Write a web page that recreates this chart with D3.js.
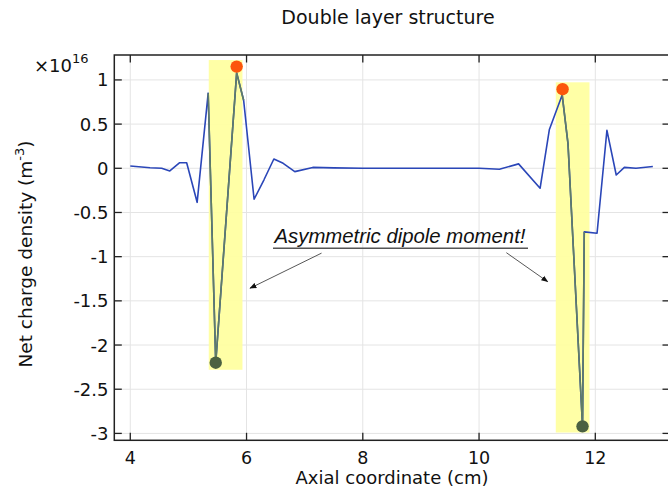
<!DOCTYPE html>
<html>
<head>
<meta charset="utf-8">
<script src="https://cdn.jsdelivr.net/npm/d3@7"></script>
<style>
  html, body { margin: 0; padding: 0; background: #fff; }
  svg { display: block; }
</style>
</head>
<body>
<svg id="chart" width="668" height="488"></svg>
<script>
// ---- Data ----
const axialCm = [4.00, 4.34, 4.54, 4.68, 4.85, 4.97, 5.15, 5.34, 5.47, 5.83, 5.95, 6.13, 6.30, 6.47, 6.63, 6.83, 7.14, 7.5, 8.0, 8.5, 9.0, 9.5, 10.0, 10.35, 10.68, 11.05, 11.21, 11.43, 11.53, 11.78, 11.81, 12.03, 12.20, 12.36, 12.50, 12.70, 12.99];
const netCharge = [0.026, 0.007, 0.0, -0.03, 0.063, 0.063, -0.385, 0.85, -2.2, 1.08, 0.77, -0.35, -0.13, 0.105, 0.056, -0.038, 0.01, 0.005, 0.0, 0.0, 0.0, 0.0, 0.0, -0.01, 0.05, -0.226, 0.44, 0.83, 0.28, -2.92, -0.72, -0.735, 0.43, -0.076, 0.01, 0.0, 0.02];
// indices of the points re-drawn in grey-green (highlighted layers)
const highlightRuns = [[7, 10], [27, 30]];
// highlight boxes (x0, x1, yBottom, yTop)
const boxX0 = [5.35, 11.32];
const boxX1 = [5.93, 11.90];
const boxYBottom = [-2.28, -2.99];
const boxYTop = [1.225, 0.973];
// marker dots
const peakX = [5.83, 11.437];
const peakY = [1.151, 0.895];
const troughX = [5.47, 11.78];
const troughY = [-2.2, -2.92];
// tick values
const xTicks = [4, 6, 8, 10, 12];
const yTicks = [1, 0.5, 0, -0.5, -1, -1.5, -2, -2.5, -3];

// ---- Layout ----
const svg = d3.select("#chart");
const pLeft = 114.3, pRight = 670, pTop = 55, pBottom = 440.3;
const x = d3.scaleLinear().domain([3.725, 13.285]).range([pLeft, pRight]);
const y = d3.scaleLinear().domain([-3.078, 1.282]).range([pBottom, pTop]);
const font = "'DejaVu Sans', sans-serif";
const fmt = v => String(v).replace("\u2212", "-");

// grid
const grid = svg.append("g").attr("stroke", "#e4e4e4").attr("stroke-width", 1);
grid.selectAll("line.gx").data(xTicks).join("line")
  .attr("x1", d => x(d)).attr("x2", d => x(d)).attr("y1", pTop).attr("y2", pBottom);
grid.selectAll("line.gy").data(yTicks).join("line")
  .attr("x1", pLeft).attr("x2", pRight).attr("y1", d => y(d)).attr("y2", d => y(d));

// highlight boxes
svg.append("g").selectAll("rect").data(boxX0).join("rect")
  .attr("x", (d, i) => x(boxX0[i]))
  .attr("width", (d, i) => x(boxX1[i]) - x(boxX0[i]))
  .attr("y", (d, i) => y(boxYTop[i]))
  .attr("height", (d, i) => y(boxYBottom[i]) - y(boxYTop[i]))
  .attr("fill", "#ffff9e").attr("fill-opacity", 0.92);

// main line
const pts = axialCm.map((d, i) => [d, netCharge[i]]);
const line = d3.line().x(d => x(d[0])).y(d => y(d[1]));
svg.append("path").datum(pts).attr("d", line)
  .attr("fill", "none").attr("stroke", "#2a46b8").attr("stroke-width", 1.6)
  .attr("stroke-linejoin", "round");
// highlighted runs
highlightRuns.forEach(([a, b]) => {
  svg.append("path").datum(pts.slice(a, b + 1)).attr("d", line)
    .attr("fill", "none").attr("stroke", "#5f7c66").attr("stroke-width", 1.6)
    .attr("stroke-linejoin", "round");
});

// dots
svg.append("g").selectAll("circle").data(peakX).join("circle")
  .attr("cx", (d, i) => x(peakX[i])).attr("cy", (d, i) => y(peakY[i])).attr("r", 6.2)
  .attr("fill", "#fc560c");
svg.append("g").selectAll("circle").data(troughX).join("circle")
  .attr("cx", (d, i) => x(troughX[i])).attr("cy", (d, i) => y(troughY[i])).attr("r", 6.2)
  .attr("fill", "#4b6141");

// frame
const frame = svg.append("g").attr("stroke", "#222").attr("stroke-width", 1.5).attr("fill", "none");
frame.append("rect").attr("x", pLeft).attr("y", pTop).attr("width", pRight - pLeft).attr("height", pBottom - pTop);
// ticks (inward)
const tk = 7.5;
const ticks = svg.append("g").attr("stroke", "#222").attr("stroke-width", 1.3);
xTicks.forEach(v => {
  ticks.append("line").attr("x1", x(v)).attr("x2", x(v)).attr("y1", pBottom).attr("y2", pBottom - tk);
  ticks.append("line").attr("x1", x(v)).attr("x2", x(v)).attr("y1", pTop).attr("y2", pTop + tk);
});
yTicks.forEach(v => {
  ticks.append("line").attr("x1", pLeft).attr("x2", pLeft + tk).attr("y1", y(v)).attr("y2", y(v));
  ticks.append("line").attr("x1", pRight).attr("x2", pRight - tk).attr("y1", y(v)).attr("y2", y(v));
});

// tick labels
svg.append("g").selectAll("text").data(xTicks).join("text")
  .attr("x", d => x(d)).attr("y", 463.5).attr("text-anchor", "middle")
  .attr("font-family", font).attr("font-size", 17.5).attr("fill", "#111").text(d => fmt(d));
svg.append("g").selectAll("text").data(yTicks).join("text")
  .attr("x", 108.5).attr("y", d => y(d) + 6.5).attr("text-anchor", "end")
  .attr("font-family", font).attr("font-size", 18).attr("fill", "#111").text(d => fmt(d));

// exponent
const ex = svg.append("text").attr("x", 34).attr("y", 72).attr("font-family", font)
  .attr("font-size", 18).attr("fill", "#111");
ex.append("tspan").text("\u00d710");
ex.append("tspan").attr("dy", -9).attr("font-size", 13).text("16");

// title
svg.append("text").attr("x", 388).attr("y", 24).attr("text-anchor", "middle")
  .attr("font-family", font).attr("font-size", 19).attr("fill", "#111")
  .text("Double layer structure");

// axis labels
svg.append("text").attr("x", 392).attr("y", 483.8).attr("text-anchor", "middle")
  .attr("font-family", font).attr("font-size", 18).attr("fill", "#111")
  .text("Axial coordinate (cm)");
const yl = svg.append("text").attr("transform", "translate(32,254) rotate(-90)")
  .attr("text-anchor", "middle").attr("font-family", font).attr("font-size", 18.5).attr("fill", "#111");
yl.append("tspan").text("Net charge density (m");
yl.append("tspan").attr("dy", -8).attr("font-size", 13).text("-3");
yl.append("tspan").attr("dy", 8).text(")");

// annotation
const annX = 8.64, annY = -0.84;
svg.append("text").attr("x", x(annX)).attr("y", y(annY)).attr("text-anchor", "middle")
  .attr("font-family", "'Liberation Sans', Arial, sans-serif").attr("font-style", "italic")
  .attr("font-size", 19.5).attr("fill", "#111").attr("textLength", 251).attr("lengthAdjust", "spacingAndGlyphs")
  .text("Asymmetric dipole moment!");
svg.append("line").attr("x1", 273).attr("x2", 528).attr("y1", y(annY) + 5.8).attr("y2", y(annY) + 5.8)
  .attr("stroke", "#555").attr("stroke-width", 1.6);

// arrows (data coordinates of tails and heads)
const arrowTailX = [7.29, 10.47], arrowTailY = [-0.96, -0.955];
const arrowHeadX = [6.06, 11.18], arrowHeadY = [-1.357, -1.283];
svg.append("defs").append("marker").attr("id", "ah").attr("viewBox", "0 0 10 10")
  .attr("refX", 9).attr("refY", 5).attr("markerWidth", 7).attr("markerHeight", 7)
  .attr("markerUnits", "userSpaceOnUse").attr("orient", "auto")
  .append("path").attr("d", "M0,1 L10,5 L0,9 Z").attr("fill", "#111");
svg.append("g").selectAll("line").data(arrowTailX).join("line")
  .attr("x1", (d, i) => x(arrowTailX[i])).attr("y1", (d, i) => y(arrowTailY[i]))
  .attr("x2", (d, i) => x(arrowHeadX[i])).attr("y2", (d, i) => y(arrowHeadY[i]))
  .attr("stroke", "#444").attr("stroke-width", 0.9).attr("marker-end", "url(#ah)");
</script>
</body>
</html>
